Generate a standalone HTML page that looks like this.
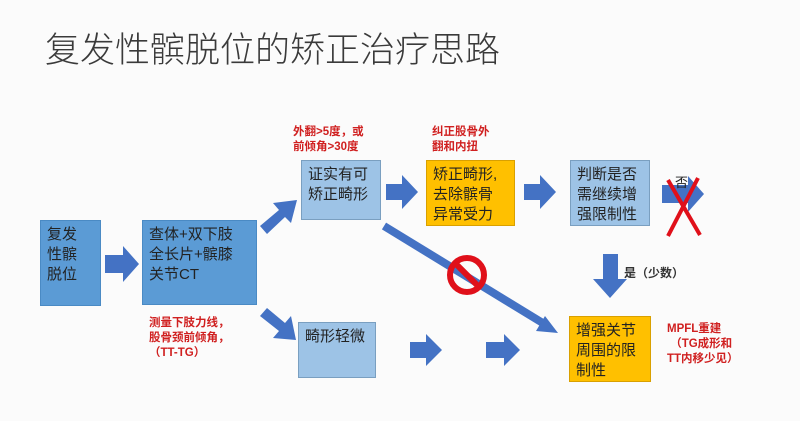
<!DOCTYPE html>
<html><head><meta charset="utf-8"><style>
body{margin:0;width:800px;height:421px;background:#fbfbfb;position:relative;overflow:hidden;font-family:"Liberation Sans","Noto Sans CJK SC",sans-serif;}
.a{position:absolute;}
.t{position:absolute;left:45px;top:22px;font-size:35px;color:#3a3a3a;font-weight:300;letter-spacing:0px;white-space:nowrap;font-family:"Noto Sans CJK SC",sans-serif;}
.bx{position:absolute;box-sizing:border-box;font-size:15px;line-height:20px;color:#222;padding:4px 6px;}
.db{background:#5b9bd5;border:1px solid #4a8ac4;}
.lb{background:#9dc3e6;border:1px solid #7a9fc0;}
.or{background:#ffc000;border:1px solid #d9a000;}
.r{position:absolute;color:#d02020;font-size:11.5px;font-weight:bold;line-height:15px;white-space:nowrap;}
</style></head><body>
<div class="t">复发性髌脱位的矫正治疗思路</div>
<svg class="a" style="left:0;top:0" width="800" height="421">
<g fill="#4472c4">
<polygon points="105,255 123,255 123,246 139,264 123,282 123,273 105,273"/>
<line x1="384" y1="226" x2="546" y2="325" stroke="#4472c4" stroke-width="8"/>
<polygon points="558,333 536,331 545,316"/>
<!-- up-right arrow -->
<polygon points="260,226 279,210 273,203 297,200 291,223 285,217 267,234"/>
<!-- down-right arrow -->
<polygon points="260,316 267,308 285,323 291,316 296,340 273,338 279,331"/>
<polygon points="386,184 402,184 402,175 418,192 402,209 402,200 386,200"/>
<polygon points="524,184 540,184 540,175 556,192 540,209 540,200 524,200"/>
<polygon points="662,185 688,185 688,176 704,194 688,212 688,203 662,203"/>
<polygon points="410,342 426,342 426,334 442,350 426,366 426,358 410,358"/>
<polygon points="486,342 504,342 504,334 520,350 504,366 504,358 486,358"/>
<polygon points="603,254 618,254 618,279 627,279 610,298 593,279 603,279"/>
</g>
<circle cx="467" cy="275" r="17" fill="none" stroke="#e0101a" stroke-width="6"/>
<line x1="455" y1="263" x2="479" y2="287" stroke="#e0101a" stroke-width="6"/>
<line x1="668" y1="180" x2="700" y2="235" stroke="#e0101a" stroke-width="4"/>
<line x1="698" y1="178" x2="668" y2="236" stroke="#e0101a" stroke-width="4"/>
</svg>
<div class="a" style="left:675px;top:172px;font-size:13px;color:#222">否</div>
<div class="bx db" style="left:40px;top:220px;width:61px;height:86px">复发<br>性髌<br>脱位</div>
<div class="bx db" style="left:142px;top:220px;width:115px;height:85px;padding:4px 6px">查体+双下肢<br>全长片+髌膝<br>关节CT</div>
<div class="bx lb" style="left:301px;top:160px;width:80px;height:60px">证实有可<br>矫正畸形</div>
<div class="bx or" style="left:426px;top:160px;width:89px;height:66px">矫正畸形,<br>去除髌骨<br>异常受力</div>
<div class="bx lb" style="left:570px;top:160px;width:80px;height:66px">判断是否<br>需继续增<br>强限制性</div>
<div class="bx lb" style="left:298px;top:322px;width:78px;height:56px">畸形轻微</div>
<div class="bx or" style="left:569px;top:316px;width:82px;height:66px">增强关节<br>周围的限<br>制性</div>
<div class="r" style="left:293px;top:125px">外翻&gt;5度，或<br>前倾角&gt;30度</div>
<div class="r" style="left:432px;top:125px">纠正股骨外<br>翻和内扭</div>
<div class="r" style="left:149px;top:316px">测量下肢力线，<br>股骨颈前倾角，<br>（TT-TG）</div>
<div class="r" style="left:667px;top:322px">MPFL重建<br>&nbsp;（TG成形和<br>TT内移少见）</div>
<div class="a" style="left:624px;top:264px;font-size:12px;font-weight:bold;color:#333">是（少数）</div>
</body></html>
